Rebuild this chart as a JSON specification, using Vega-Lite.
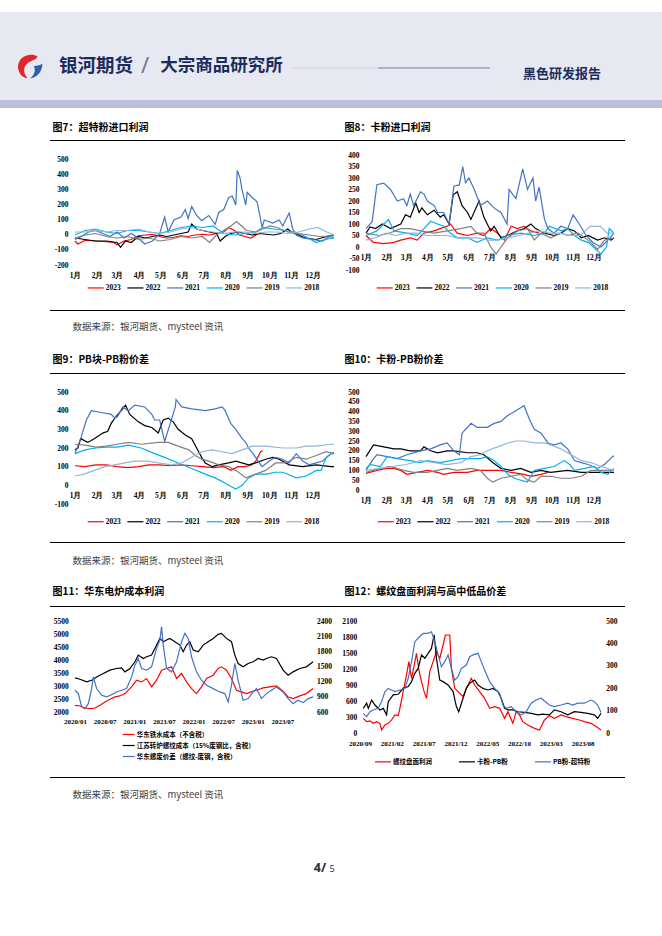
{
"$schema":"https://vega.github.io/schema/vega-lite/v6.json",
"padding":{"top":12,"left":0,"right":0,"bottom":0},
"background":"#ffffff",
"spacing":0,
"resolve":{"scale":{"color":"independent"},"legend":{"color":"independent"}},
"config":{
 "view":{"stroke":null},
 "axis":{"grid":false,"domain":false,"ticks":false,"labelFont":"Liberation Serif","labelFontWeight":"bold","labelColor":"#000000","labelFontSize":7.5,"labelOverlap":false,"labelFlush":false},
 "legend":{"labelFont":"Liberation Serif","labelFontWeight":"bold","labelColor":"#000000","labelFontSize":7.5,"symbolType":"stroke","symbolStrokeWidth":2,"padding":0,"labelOffset":1},
 "line":{"strokeWidth":1.2}
},
"datasets":{
"c7":[
{"s":"2023","d":1,"v":-40},{"s":"2023","d":5,"v":-60},{"s":"2023","d":15,"v":-35},{"s":"2023","d":30,"v":-40},{"s":"2023","d":45,"v":-45},{"s":"2023","d":55,"v":-50},{"s":"2023","d":60,"v":-65},{"s":"2023","d":70,"v":-40},{"s":"2023","d":80,"v":-30},{"s":"2023","d":90,"v":-5},{"s":"2023","d":100,"v":0},{"s":"2023","d":110,"v":5},{"s":"2023","d":120,"v":-10},{"s":"2023","d":130,"v":-20},{"s":"2023","d":140,"v":-15},{"s":"2023","d":150,"v":-5},{"s":"2023","d":160,"v":-10},{"s":"2023","d":170,"v":0},{"s":"2023","d":180,"v":5},{"s":"2023","d":190,"v":0},{"s":"2023","d":200,"v":10},{"s":"2023","d":210,"v":20},{"s":"2023","d":217,"v":50},{"s":"2023","d":225,"v":30},{"s":"2023","d":232,"v":0},{"s":"2023","d":240,"v":-10},{"s":"2023","d":248,"v":-20},{"s":"2023","d":255,"v":0},{"s":"2023","d":262,"v":15},
{"s":"2022","d":1,"v":-20},{"s":"2022","d":15,"v":-30},{"s":"2022","d":30,"v":-40},{"s":"2022","d":45,"v":-40},{"s":"2022","d":60,"v":-50},{"s":"2022","d":65,"v":-82},{"s":"2022","d":72,"v":-40},{"s":"2022","d":80,"v":-50},{"s":"2022","d":90,"v":-10},{"s":"2022","d":100,"v":-20},{"s":"2022","d":110,"v":-10},{"s":"2022","d":120,"v":0},{"s":"2022","d":130,"v":-10},{"s":"2022","d":140,"v":0},{"s":"2022","d":150,"v":10},{"s":"2022","d":160,"v":20},{"s":"2022","d":165,"v":73},{"s":"2022","d":172,"v":40},{"s":"2022","d":180,"v":30},{"s":"2022","d":190,"v":20},{"s":"2022","d":200,"v":10},{"s":"2022","d":205,"v":-40},{"s":"2022","d":212,"v":-10},{"s":"2022","d":220,"v":10},{"s":"2022","d":230,"v":20},{"s":"2022","d":240,"v":10},{"s":"2022","d":250,"v":0},{"s":"2022","d":260,"v":10},{"s":"2022","d":270,"v":5},{"s":"2022","d":280,"v":0},{"s":"2022","d":290,"v":10},{"s":"2022","d":300,"v":40},{"s":"2022","d":305,"v":20},{"s":"2022","d":315,"v":0},{"s":"2022","d":325,"v":-20},{"s":"2022","d":340,"v":-30},{"s":"2022","d":355,"v":-10},{"s":"2022","d":365,"v":0},
{"s":"2021","d":1,"v":-30},{"s":"2021","d":10,"v":-10},{"s":"2021","d":20,"v":20},{"s":"2021","d":30,"v":30},{"s":"2021","d":40,"v":10},{"s":"2021","d":50,"v":-10},{"s":"2021","d":60,"v":20},{"s":"2021","d":70,"v":-20},{"s":"2021","d":80,"v":10},{"s":"2021","d":90,"v":-20},{"s":"2021","d":99,"v":-60},{"s":"2021","d":110,"v":-40},{"s":"2021","d":120,"v":10},{"s":"2021","d":127,"v":120},{"s":"2021","d":132,"v":20},{"s":"2021","d":140,"v":100},{"s":"2021","d":150,"v":120},{"s":"2021","d":156,"v":170},{"s":"2021","d":160,"v":110},{"s":"2021","d":165,"v":190},{"s":"2021","d":172,"v":130},{"s":"2021","d":179,"v":95},{"s":"2021","d":189,"v":130},{"s":"2021","d":198,"v":70},{"s":"2021","d":203,"v":150},{"s":"2021","d":210,"v":170},{"s":"2021","d":217,"v":250},{"s":"2021","d":222,"v":260},{"s":"2021","d":227,"v":200},{"s":"2021","d":229,"v":430},{"s":"2021","d":233,"v":380},{"s":"2021","d":236,"v":295},{"s":"2021","d":241,"v":200},{"s":"2021","d":243,"v":285},{"s":"2021","d":250,"v":250},{"s":"2021","d":255,"v":230},{"s":"2021","d":257,"v":220},{"s":"2021","d":264,"v":50},{"s":"2021","d":267,"v":100},{"s":"2021","d":279,"v":80},{"s":"2021","d":288,"v":100},{"s":"2021","d":293,"v":60},{"s":"2021","d":297,"v":100},{"s":"2021","d":302,"v":147},{"s":"2021","d":307,"v":40},{"s":"2021","d":312,"v":0},{"s":"2021","d":321,"v":-20},{"s":"2021","d":335,"v":-30},{"s":"2021","d":349,"v":-40},{"s":"2021","d":359,"v":-10},{"s":"2021","d":365,"v":-20},
{"s":"2020","d":1,"v":0},{"s":"2020","d":15,"v":30},{"s":"2020","d":30,"v":40},{"s":"2020","d":45,"v":20},{"s":"2020","d":60,"v":10},{"s":"2020","d":75,"v":30},{"s":"2020","d":90,"v":30},{"s":"2020","d":105,"v":20},{"s":"2020","d":120,"v":10},{"s":"2020","d":135,"v":30},{"s":"2020","d":150,"v":50},{"s":"2020","d":165,"v":60},{"s":"2020","d":180,"v":50},{"s":"2020","d":195,"v":60},{"s":"2020","d":210,"v":10},{"s":"2020","d":225,"v":0},{"s":"2020","d":240,"v":10},{"s":"2020","d":255,"v":20},{"s":"2020","d":265,"v":50},{"s":"2020","d":280,"v":40},{"s":"2020","d":295,"v":30},{"s":"2020","d":310,"v":20},{"s":"2020","d":325,"v":-10},{"s":"2020","d":340,"v":-50},{"s":"2020","d":352,"v":-30},{"s":"2020","d":365,"v":-20},
{"s":"2019","d":1,"v":-20},{"s":"2019","d":15,"v":0},{"s":"2019","d":30,"v":10},{"s":"2019","d":45,"v":-10},{"s":"2019","d":60,"v":-20},{"s":"2019","d":75,"v":-10},{"s":"2019","d":90,"v":-30},{"s":"2019","d":105,"v":-20},{"s":"2019","d":120,"v":-40},{"s":"2019","d":135,"v":-30},{"s":"2019","d":150,"v":-10},{"s":"2019","d":165,"v":-20},{"s":"2019","d":180,"v":-10},{"s":"2019","d":190,"v":-49},{"s":"2019","d":200,"v":0},{"s":"2019","d":210,"v":30},{"s":"2019","d":220,"v":60},{"s":"2019","d":228,"v":90},{"s":"2019","d":235,"v":60},{"s":"2019","d":242,"v":30},{"s":"2019","d":255,"v":20},{"s":"2019","d":265,"v":40},{"s":"2019","d":275,"v":60},{"s":"2019","d":285,"v":50},{"s":"2019","d":300,"v":20},{"s":"2019","d":315,"v":10},{"s":"2019","d":330,"v":0},{"s":"2019","d":345,"v":-10},{"s":"2019","d":365,"v":-5},
{"s":"2018","d":1,"v":20},{"s":"2018","d":15,"v":20},{"s":"2018","d":30,"v":30},{"s":"2018","d":45,"v":20},{"s":"2018","d":60,"v":30},{"s":"2018","d":75,"v":30},{"s":"2018","d":90,"v":40},{"s":"2018","d":105,"v":20},{"s":"2018","d":120,"v":10},{"s":"2018","d":135,"v":20},{"s":"2018","d":150,"v":40},{"s":"2018","d":165,"v":50},{"s":"2018","d":180,"v":30},{"s":"2018","d":195,"v":20},{"s":"2018","d":210,"v":10},{"s":"2018","d":225,"v":20},{"s":"2018","d":240,"v":20},{"s":"2018","d":255,"v":10},{"s":"2018","d":270,"v":20},{"s":"2018","d":285,"v":20},{"s":"2018","d":300,"v":10},{"s":"2018","d":315,"v":20},{"s":"2018","d":330,"v":40},{"s":"2018","d":342,"v":50},{"s":"2018","d":355,"v":20},{"s":"2018","d":365,"v":0}
],
"c8":[
{"s":"2023","d":1,"v":50},{"s":"2023","d":12,"v":20},{"s":"2023","d":27,"v":15},{"s":"2023","d":42,"v":20},{"s":"2023","d":52,"v":30},{"s":"2023","d":66,"v":40},{"s":"2023","d":76,"v":30},{"s":"2023","d":86,"v":60},{"s":"2023","d":101,"v":70},{"s":"2023","d":110,"v":80},{"s":"2023","d":120,"v":90},{"s":"2023","d":125,"v":100},{"s":"2023","d":135,"v":60},{"s":"2023","d":150,"v":50},{"s":"2023","d":164,"v":60},{"s":"2023","d":174,"v":50},{"s":"2023","d":184,"v":80},{"s":"2023","d":194,"v":60},{"s":"2023","d":204,"v":30},{"s":"2023","d":214,"v":90},{"s":"2023","d":223,"v":80},{"s":"2023","d":233,"v":90},{"s":"2023","d":243,"v":70},{"s":"2023","d":255,"v":60},
{"s":"2022","d":1,"v":60},{"s":"2022","d":7,"v":87},{"s":"2022","d":15,"v":80},{"s":"2022","d":25,"v":100},{"s":"2022","d":37,"v":80},{"s":"2022","d":52,"v":100},{"s":"2022","d":59,"v":140},{"s":"2022","d":66,"v":130},{"s":"2022","d":74,"v":191},{"s":"2022","d":79,"v":150},{"s":"2022","d":83,"v":170},{"s":"2022","d":91,"v":140},{"s":"2022","d":101,"v":160},{"s":"2022","d":110,"v":130},{"s":"2022","d":115,"v":140},{"s":"2022","d":123,"v":100},{"s":"2022","d":129,"v":227},{"s":"2022","d":135,"v":240},{"s":"2022","d":142,"v":180},{"s":"2022","d":150,"v":150},{"s":"2022","d":155,"v":120},{"s":"2022","d":167,"v":200},{"s":"2022","d":174,"v":130},{"s":"2022","d":179,"v":100},{"s":"2022","d":184,"v":70},{"s":"2022","d":189,"v":90},{"s":"2022","d":199,"v":40},{"s":"2022","d":209,"v":50},{"s":"2022","d":223,"v":70},{"s":"2022","d":233,"v":80},{"s":"2022","d":243,"v":100},{"s":"2022","d":250,"v":80},{"s":"2022","d":263,"v":60},{"s":"2022","d":277,"v":50},{"s":"2022","d":287,"v":60},{"s":"2022","d":297,"v":80},{"s":"2022","d":307,"v":70},{"s":"2022","d":317,"v":40},{"s":"2022","d":327,"v":50},{"s":"2022","d":341,"v":30},{"s":"2022","d":351,"v":40},{"s":"2022","d":361,"v":30},{"s":"2022","d":365,"v":40},
{"s":"2021","d":1,"v":80},{"s":"2021","d":10,"v":110},{"s":"2021","d":17,"v":271},{"s":"2021","d":27,"v":278},{"s":"2021","d":37,"v":250},{"s":"2021","d":47,"v":200},{"s":"2021","d":56,"v":210},{"s":"2021","d":61,"v":180},{"s":"2021","d":66,"v":230},{"s":"2021","d":71,"v":180},{"s":"2021","d":81,"v":240},{"s":"2021","d":86,"v":230},{"s":"2021","d":91,"v":200},{"s":"2021","d":101,"v":180},{"s":"2021","d":106,"v":150},{"s":"2021","d":115,"v":150},{"s":"2021","d":123,"v":100},{"s":"2021","d":130,"v":264},{"s":"2021","d":138,"v":270},{"s":"2021","d":143,"v":350},{"s":"2021","d":147,"v":280},{"s":"2021","d":152,"v":300},{"s":"2021","d":160,"v":250},{"s":"2021","d":169,"v":180},{"s":"2021","d":179,"v":200},{"s":"2021","d":189,"v":170},{"s":"2021","d":199,"v":150},{"s":"2021","d":208,"v":100},{"s":"2021","d":211,"v":250},{"s":"2021","d":221,"v":210},{"s":"2021","d":231,"v":340},{"s":"2021","d":238,"v":250},{"s":"2021","d":246,"v":300},{"s":"2021","d":250,"v":200},{"s":"2021","d":255,"v":260},{"s":"2021","d":263,"v":120},{"s":"2021","d":268,"v":80},{"s":"2021","d":277,"v":60},{"s":"2021","d":287,"v":90},{"s":"2021","d":297,"v":80},{"s":"2021","d":305,"v":140},{"s":"2021","d":314,"v":100},{"s":"2021","d":324,"v":50},{"s":"2021","d":334,"v":20},{"s":"2021","d":346,"v":0},{"s":"2021","d":356,"v":30},{"s":"2021","d":365,"v":60},
{"s":"2020","d":1,"v":50},{"s":"2020","d":17,"v":70},{"s":"2020","d":34,"v":119},{"s":"2020","d":42,"v":70},{"s":"2020","d":61,"v":60},{"s":"2020","d":76,"v":50},{"s":"2020","d":86,"v":80},{"s":"2020","d":96,"v":112},{"s":"2020","d":106,"v":100},{"s":"2020","d":115,"v":90},{"s":"2020","d":125,"v":60},{"s":"2020","d":135,"v":40},{"s":"2020","d":150,"v":40},{"s":"2020","d":164,"v":20},{"s":"2020","d":179,"v":40},{"s":"2020","d":194,"v":30},{"s":"2020","d":209,"v":50},{"s":"2020","d":228,"v":60},{"s":"2020","d":248,"v":50},{"s":"2020","d":263,"v":60},{"s":"2020","d":270,"v":90},{"s":"2020","d":287,"v":70},{"s":"2020","d":297,"v":80},{"s":"2020","d":307,"v":50},{"s":"2020","d":317,"v":30},{"s":"2020","d":327,"v":20},{"s":"2020","d":346,"v":-30},{"s":"2020","d":354,"v":0},{"s":"2020","d":358,"v":80},{"s":"2020","d":365,"v":60},
{"s":"2019","d":1,"v":60},{"s":"2019","d":20,"v":50},{"s":"2019","d":35,"v":60},{"s":"2019","d":52,"v":80},{"s":"2019","d":66,"v":80},{"s":"2019","d":81,"v":70},{"s":"2019","d":101,"v":60},{"s":"2019","d":120,"v":70},{"s":"2019","d":140,"v":80},{"s":"2019","d":155,"v":90},{"s":"2019","d":164,"v":60},{"s":"2019","d":174,"v":60},{"s":"2019","d":184,"v":0},{"s":"2019","d":192,"v":-30},{"s":"2019","d":199,"v":0},{"s":"2019","d":209,"v":40},{"s":"2019","d":223,"v":70},{"s":"2019","d":238,"v":80},{"s":"2019","d":248,"v":30},{"s":"2019","d":258,"v":60},{"s":"2019","d":272,"v":40},{"s":"2019","d":287,"v":60},{"s":"2019","d":297,"v":50},{"s":"2019","d":312,"v":60},{"s":"2019","d":327,"v":30},{"s":"2019","d":341,"v":-10},{"s":"2019","d":351,"v":30},{"s":"2019","d":365,"v":40},
{"s":"2018","d":1,"v":30},{"s":"2018","d":15,"v":40},{"s":"2018","d":30,"v":60},{"s":"2018","d":45,"v":50},{"s":"2018","d":60,"v":60},{"s":"2018","d":75,"v":60},{"s":"2018","d":90,"v":50},{"s":"2018","d":105,"v":50},{"s":"2018","d":120,"v":50},{"s":"2018","d":135,"v":40},{"s":"2018","d":150,"v":40},{"s":"2018","d":165,"v":40},{"s":"2018","d":180,"v":30},{"s":"2018","d":195,"v":30},{"s":"2018","d":210,"v":40},{"s":"2018","d":225,"v":50},{"s":"2018","d":240,"v":60},{"s":"2018","d":255,"v":70},{"s":"2018","d":270,"v":60},{"s":"2018","d":285,"v":60},{"s":"2018","d":300,"v":50},{"s":"2018","d":315,"v":50},{"s":"2018","d":330,"v":90},{"s":"2018","d":345,"v":90},{"s":"2018","d":355,"v":60},{"s":"2018","d":365,"v":60}
],
"c9":[
{"s":"2023","d":1,"v":105},{"s":"2023","d":15,"v":100},{"s":"2023","d":30,"v":110},{"s":"2023","d":45,"v":110},{"s":"2023","d":60,"v":100},{"s":"2023","d":75,"v":95},{"s":"2023","d":90,"v":100},{"s":"2023","d":105,"v":110},{"s":"2023","d":120,"v":110},{"s":"2023","d":135,"v":105},{"s":"2023","d":150,"v":110},{"s":"2023","d":165,"v":105},{"s":"2023","d":180,"v":100},{"s":"2023","d":195,"v":95},{"s":"2023","d":210,"v":100},{"s":"2023","d":220,"v":80},{"s":"2023","d":230,"v":100},{"s":"2023","d":240,"v":100},{"s":"2023","d":250,"v":110},{"s":"2023","d":255,"v":130},{"s":"2023","d":262,"v":180},{"s":"2023","d":265,"v":185},
{"s":"2022","d":1,"v":190},{"s":"2022","d":5,"v":200},{"s":"2022","d":9,"v":250},{"s":"2022","d":19,"v":230},{"s":"2022","d":28,"v":250},{"s":"2022","d":40,"v":280},{"s":"2022","d":47,"v":290},{"s":"2022","d":52,"v":333},{"s":"2022","d":59,"v":370},{"s":"2022","d":66,"v":400},{"s":"2022","d":72,"v":430},{"s":"2022","d":78,"v":380},{"s":"2022","d":90,"v":340},{"s":"2022","d":99,"v":320},{"s":"2022","d":109,"v":310},{"s":"2022","d":118,"v":280},{"s":"2022","d":125,"v":350},{"s":"2022","d":132,"v":360},{"s":"2022","d":139,"v":340},{"s":"2022","d":146,"v":300},{"s":"2022","d":156,"v":270},{"s":"2022","d":165,"v":250},{"s":"2022","d":172,"v":200},{"s":"2022","d":179,"v":150},{"s":"2022","d":184,"v":120},{"s":"2022","d":194,"v":100},{"s":"2022","d":203,"v":110},{"s":"2022","d":217,"v":120},{"s":"2022","d":227,"v":130},{"s":"2022","d":245,"v":110},{"s":"2022","d":255,"v":120},{"s":"2022","d":269,"v":140},{"s":"2022","d":279,"v":150},{"s":"2022","d":288,"v":140},{"s":"2022","d":302,"v":110},{"s":"2022","d":321,"v":100},{"s":"2022","d":340,"v":110},{"s":"2022","d":361,"v":100},{"s":"2022","d":365,"v":100},
{"s":"2021","d":1,"v":170},{"s":"2021","d":9,"v":250},{"s":"2021","d":17,"v":350},{"s":"2021","d":24,"v":400},{"s":"2021","d":38,"v":390},{"s":"2021","d":52,"v":380},{"s":"2021","d":57,"v":360},{"s":"2021","d":61,"v":370},{"s":"2021","d":68,"v":420},{"s":"2021","d":76,"v":400},{"s":"2021","d":85,"v":430},{"s":"2021","d":99,"v":420},{"s":"2021","d":109,"v":380},{"s":"2021","d":113,"v":350},{"s":"2021","d":120,"v":350},{"s":"2021","d":127,"v":235},{"s":"2021","d":142,"v":420},{"s":"2021","d":143,"v":460},{"s":"2021","d":151,"v":420},{"s":"2021","d":165,"v":410},{"s":"2021","d":184,"v":400},{"s":"2021","d":198,"v":410},{"s":"2021","d":208,"v":420},{"s":"2021","d":212,"v":400},{"s":"2021","d":220,"v":330},{"s":"2021","d":227,"v":300},{"s":"2021","d":236,"v":250},{"s":"2021","d":241,"v":230},{"s":"2021","d":245,"v":200},{"s":"2021","d":253,"v":160},{"s":"2021","d":260,"v":120},{"s":"2021","d":264,"v":100},{"s":"2021","d":274,"v":130},{"s":"2021","d":283,"v":150},{"s":"2021","d":293,"v":140},{"s":"2021","d":302,"v":120},{"s":"2021","d":312,"v":170},{"s":"2021","d":321,"v":130},{"s":"2021","d":330,"v":110},{"s":"2021","d":340,"v":120},{"s":"2021","d":349,"v":130},{"s":"2021","d":361,"v":170},{"s":"2021","d":365,"v":175},
{"s":"2020","d":1,"v":170},{"s":"2020","d":15,"v":190},{"s":"2020","d":30,"v":200},{"s":"2020","d":45,"v":205},{"s":"2020","d":60,"v":205},{"s":"2020","d":76,"v":215},{"s":"2020","d":94,"v":200},{"s":"2020","d":113,"v":170},{"s":"2020","d":127,"v":150},{"s":"2020","d":146,"v":120},{"s":"2020","d":165,"v":90},{"s":"2020","d":184,"v":60},{"s":"2020","d":198,"v":40},{"s":"2020","d":208,"v":20},{"s":"2020","d":217,"v":0},{"s":"2020","d":227,"v":-20},{"s":"2020","d":236,"v":0},{"s":"2020","d":245,"v":40},{"s":"2020","d":255,"v":60},{"s":"2020","d":269,"v":60},{"s":"2020","d":283,"v":70},{"s":"2020","d":293,"v":70},{"s":"2020","d":312,"v":40},{"s":"2020","d":326,"v":50},{"s":"2020","d":340,"v":80},{"s":"2020","d":347,"v":80},{"s":"2020","d":354,"v":150},{"s":"2020","d":361,"v":170},{"s":"2020","d":365,"v":170},
{"s":"2019","d":1,"v":220},{"s":"2019","d":15,"v":215},{"s":"2019","d":30,"v":205},{"s":"2019","d":45,"v":210},{"s":"2019","d":60,"v":220},{"s":"2019","d":76,"v":230},{"s":"2019","d":94,"v":220},{"s":"2019","d":118,"v":230},{"s":"2019","d":132,"v":230},{"s":"2019","d":146,"v":210},{"s":"2019","d":161,"v":190},{"s":"2019","d":170,"v":160},{"s":"2019","d":179,"v":140},{"s":"2019","d":189,"v":130},{"s":"2019","d":203,"v":110},{"s":"2019","d":217,"v":100},{"s":"2019","d":231,"v":70},{"s":"2019","d":241,"v":40},{"s":"2019","d":255,"v":60},{"s":"2019","d":269,"v":80},{"s":"2019","d":283,"v":120},{"s":"2019","d":297,"v":120},{"s":"2019","d":312,"v":150},{"s":"2019","d":326,"v":140},{"s":"2019","d":340,"v":160},{"s":"2019","d":354,"v":180},{"s":"2019","d":365,"v":170},
{"s":"2018","d":1,"v":50},{"s":"2018","d":14,"v":60},{"s":"2018","d":28,"v":80},{"s":"2018","d":43,"v":100},{"s":"2018","d":57,"v":110},{"s":"2018","d":71,"v":120},{"s":"2018","d":85,"v":130},{"s":"2018","d":104,"v":130},{"s":"2018","d":118,"v":120},{"s":"2018","d":137,"v":110},{"s":"2018","d":151,"v":120},{"s":"2018","d":165,"v":150},{"s":"2018","d":179,"v":180},{"s":"2018","d":194,"v":190},{"s":"2018","d":208,"v":180},{"s":"2018","d":222,"v":170},{"s":"2018","d":236,"v":190},{"s":"2018","d":250,"v":210},{"s":"2018","d":269,"v":210},{"s":"2018","d":293,"v":200},{"s":"2018","d":312,"v":200},{"s":"2018","d":326,"v":210},{"s":"2018","d":340,"v":210},{"s":"2018","d":361,"v":220},{"s":"2018","d":365,"v":220}
],
"c10":[
{"s":"2023","d":1,"v":85},{"s":"2023","d":17,"v":100},{"s":"2023","d":32,"v":110},{"s":"2023","d":42,"v":110},{"s":"2023","d":52,"v":100},{"s":"2023","d":61,"v":80},{"s":"2023","d":76,"v":90},{"s":"2023","d":91,"v":100},{"s":"2023","d":106,"v":90},{"s":"2023","d":115,"v":80},{"s":"2023","d":130,"v":90},{"s":"2023","d":150,"v":90},{"s":"2023","d":164,"v":100},{"s":"2023","d":179,"v":100},{"s":"2023","d":199,"v":100},{"s":"2023","d":214,"v":90},{"s":"2023","d":233,"v":80},{"s":"2023","d":243,"v":70},{"s":"2023","d":258,"v":80},{"s":"2023","d":268,"v":90},
{"s":"2022","d":1,"v":170},{"s":"2022","d":12,"v":230},{"s":"2022","d":27,"v":220},{"s":"2022","d":42,"v":210},{"s":"2022","d":52,"v":210},{"s":"2022","d":66,"v":200},{"s":"2022","d":81,"v":200},{"s":"2022","d":86,"v":220},{"s":"2022","d":96,"v":200},{"s":"2022","d":106,"v":190},{"s":"2022","d":120,"v":200},{"s":"2022","d":130,"v":200},{"s":"2022","d":150,"v":190},{"s":"2022","d":164,"v":190},{"s":"2022","d":174,"v":180},{"s":"2022","d":187,"v":140},{"s":"2022","d":199,"v":110},{"s":"2022","d":214,"v":100},{"s":"2022","d":228,"v":110},{"s":"2022","d":243,"v":90},{"s":"2022","d":258,"v":100},{"s":"2022","d":272,"v":90},{"s":"2022","d":297,"v":100},{"s":"2022","d":317,"v":90},{"s":"2022","d":336,"v":90},{"s":"2022","d":365,"v":90},
{"s":"2021","d":1,"v":100},{"s":"2021","d":10,"v":150},{"s":"2021","d":17,"v":180},{"s":"2021","d":32,"v":170},{"s":"2021","d":47,"v":160},{"s":"2021","d":61,"v":180},{"s":"2021","d":81,"v":200},{"s":"2021","d":96,"v":210},{"s":"2021","d":110,"v":230},{"s":"2021","d":120,"v":240},{"s":"2021","d":130,"v":200},{"s":"2021","d":138,"v":180},{"s":"2021","d":142,"v":290},{"s":"2021","d":150,"v":320},{"s":"2021","d":155,"v":340},{"s":"2021","d":164,"v":320},{"s":"2021","d":179,"v":320},{"s":"2021","d":189,"v":340},{"s":"2021","d":199,"v":350},{"s":"2021","d":209,"v":380},{"s":"2021","d":219,"v":400},{"s":"2021","d":228,"v":420},{"s":"2021","d":233,"v":430},{"s":"2021","d":241,"v":360},{"s":"2021","d":248,"v":310},{"s":"2021","d":258,"v":290},{"s":"2021","d":268,"v":240},{"s":"2021","d":277,"v":230},{"s":"2021","d":287,"v":240},{"s":"2021","d":297,"v":210},{"s":"2021","d":307,"v":150},{"s":"2021","d":317,"v":140},{"s":"2021","d":327,"v":130},{"s":"2021","d":341,"v":110},{"s":"2021","d":351,"v":130},{"s":"2021","d":363,"v":170},{"s":"2021","d":365,"v":175},
{"s":"2020","d":1,"v":110},{"s":"2020","d":7,"v":130},{"s":"2020","d":22,"v":120},{"s":"2020","d":32,"v":170},{"s":"2020","d":47,"v":160},{"s":"2020","d":66,"v":150},{"s":"2020","d":81,"v":140},{"s":"2020","d":91,"v":150},{"s":"2020","d":110,"v":140},{"s":"2020","d":125,"v":150},{"s":"2020","d":140,"v":160},{"s":"2020","d":155,"v":160},{"s":"2020","d":169,"v":160},{"s":"2020","d":179,"v":170},{"s":"2020","d":189,"v":150},{"s":"2020","d":199,"v":120},{"s":"2020","d":209,"v":80},{"s":"2020","d":219,"v":60},{"s":"2020","d":228,"v":50},{"s":"2020","d":238,"v":40},{"s":"2020","d":248,"v":100},{"s":"2020","d":263,"v":110},{"s":"2020","d":277,"v":120},{"s":"2020","d":292,"v":150},{"s":"2020","d":300,"v":130},{"s":"2020","d":307,"v":100},{"s":"2020","d":322,"v":110},{"s":"2020","d":336,"v":120},{"s":"2020","d":346,"v":90},{"s":"2020","d":356,"v":80},{"s":"2020","d":365,"v":110},
{"s":"2019","d":1,"v":90},{"s":"2019","d":22,"v":110},{"s":"2019","d":37,"v":120},{"s":"2019","d":56,"v":100},{"s":"2019","d":71,"v":90},{"s":"2019","d":91,"v":90},{"s":"2019","d":106,"v":100},{"s":"2019","d":120,"v":110},{"s":"2019","d":135,"v":100},{"s":"2019","d":155,"v":110},{"s":"2019","d":169,"v":100},{"s":"2019","d":179,"v":60},{"s":"2019","d":187,"v":40},{"s":"2019","d":199,"v":60},{"s":"2019","d":214,"v":70},{"s":"2019","d":228,"v":80},{"s":"2019","d":238,"v":50},{"s":"2019","d":248,"v":40},{"s":"2019","d":258,"v":70},{"s":"2019","d":272,"v":70},{"s":"2019","d":287,"v":60},{"s":"2019","d":302,"v":60},{"s":"2019","d":317,"v":70},{"s":"2019","d":331,"v":100},{"s":"2019","d":346,"v":100},{"s":"2019","d":365,"v":100},
{"s":"2018","d":1,"v":100},{"s":"2018","d":20,"v":110},{"s":"2018","d":40,"v":120},{"s":"2018","d":60,"v":130},{"s":"2018","d":81,"v":150},{"s":"2018","d":101,"v":140},{"s":"2018","d":120,"v":130},{"s":"2018","d":140,"v":140},{"s":"2018","d":155,"v":170},{"s":"2018","d":169,"v":180},{"s":"2018","d":179,"v":200},{"s":"2018","d":194,"v":220},{"s":"2018","d":209,"v":240},{"s":"2018","d":221,"v":250},{"s":"2018","d":233,"v":250},{"s":"2018","d":248,"v":240},{"s":"2018","d":263,"v":240},{"s":"2018","d":272,"v":230},{"s":"2018","d":287,"v":210},{"s":"2018","d":302,"v":180},{"s":"2018","d":317,"v":150},{"s":"2018","d":331,"v":140},{"s":"2018","d":346,"v":120},{"s":"2018","d":365,"v":100}
],
"c11":[
{"s":"a","m":0,"v":2257},{"s":"a","m":1.01,"v":2232},{"s":"a","m":2.02,"v":2154},{"s":"a","m":3.03,"v":2129},{"s":"a","m":4.05,"v":2154},{"s":"a","m":5.06,"v":2257},{"s":"a","m":6.07,"v":2386},{"s":"a","m":7.08,"v":2489},{"s":"a","m":8.09,"v":2579},{"s":"a","m":9.1,"v":2618},{"s":"a","m":10.11,"v":2708},{"s":"a","m":11.46,"v":2965},{"s":"a","m":12.47,"v":3223},{"s":"a","m":13.49,"v":3158},{"s":"a","m":14.5,"v":3287},{"s":"a","m":15.51,"v":2965},{"s":"a","m":16.52,"v":3223},{"s":"a","m":17.53,"v":3609},{"s":"a","m":18.54,"v":3673},{"s":"a","m":19.55,"v":3737},{"s":"a","m":20.57,"v":3287},{"s":"a","m":21.58,"v":3480},{"s":"a","m":22.59,"v":3158},{"s":"a","m":23.6,"v":2901},{"s":"a","m":24.61,"v":2708},{"s":"a","m":25.62,"v":2965},{"s":"a","m":26.64,"v":3287},{"s":"a","m":27.98,"v":3416},{"s":"a","m":29,"v":3673},{"s":"a","m":29.67,"v":3737},{"s":"a","m":30.68,"v":3609},{"s":"a","m":31.69,"v":3287},{"s":"a","m":32.7,"v":2836},{"s":"a","m":33.72,"v":2772},{"s":"a","m":34.73,"v":2708},{"s":"a","m":35.74,"v":2772},{"s":"a","m":36.75,"v":2836},{"s":"a","m":38.1,"v":2926},{"s":"a","m":39.45,"v":2965},{"s":"a","m":40.8,"v":3004},{"s":"a","m":42.15,"v":2798},{"s":"a","m":43.16,"v":2579},{"s":"a","m":44.17,"v":2515},{"s":"a","m":45.52,"v":2618},{"s":"a","m":46.86,"v":2708},{"s":"a","m":48.21,"v":2901},
{"s":"b","m":0,"v":3313},{"s":"b","m":1.01,"v":3261},{"s":"b","m":2.36,"v":3158},{"s":"b","m":3.37,"v":3223},{"s":"b","m":4.38,"v":3350},{"s":"b","m":5.73,"v":3480},{"s":"b","m":7.08,"v":3609},{"s":"b","m":8.43,"v":3673},{"s":"b","m":9.44,"v":3700},{"s":"b","m":10.11,"v":3544},{"s":"b","m":11.13,"v":3673},{"s":"b","m":12.14,"v":3931},{"s":"b","m":12.81,"v":4188},{"s":"b","m":13.82,"v":4059},{"s":"b","m":14.5,"v":4124},{"s":"b","m":15.51,"v":4188},{"s":"b","m":16.18,"v":4445},{"s":"b","m":17.19,"v":4831},{"s":"b","m":17.87,"v":4703},{"s":"b","m":18.54,"v":4767},{"s":"b","m":19.22,"v":4831},{"s":"b","m":20.23,"v":4703},{"s":"b","m":21.24,"v":4574},{"s":"b","m":21.92,"v":4317},{"s":"b","m":22.59,"v":4574},{"s":"b","m":23.26,"v":4703},{"s":"b","m":23.94,"v":4381},{"s":"b","m":24.95,"v":4317},{"s":"b","m":25.96,"v":4574},{"s":"b","m":26.97,"v":4703},{"s":"b","m":27.98,"v":4831},{"s":"b","m":29,"v":4986},{"s":"b","m":29.67,"v":5024},{"s":"b","m":30.68,"v":4831},{"s":"b","m":31.69,"v":4703},{"s":"b","m":32.37,"v":4188},{"s":"b","m":33.04,"v":3866},{"s":"b","m":34.05,"v":3737},{"s":"b","m":35.06,"v":3866},{"s":"b","m":36.08,"v":3931},{"s":"b","m":37.09,"v":4059},{"s":"b","m":38.1,"v":3995},{"s":"b","m":38.77,"v":4059},{"s":"b","m":39.78,"v":4124},{"s":"b","m":40.8,"v":4059},{"s":"b","m":42.15,"v":3609},{"s":"b","m":43.16,"v":3416},{"s":"b","m":44.17,"v":3544},{"s":"b","m":45.52,"v":3673},{"s":"b","m":46.86,"v":3737},{"s":"b","m":48.21,"v":3931},
{"s":"c","m":0,"v":1030},{"s":"c","m":0.67,"v":964},{"s":"c","m":1.35,"v":699},{"s":"c","m":2.02,"v":666},{"s":"c","m":2.7,"v":765},{"s":"c","m":3.37,"v":1063},{"s":"c","m":3.71,"v":1295},{"s":"c","m":4.38,"v":1063},{"s":"c","m":5.39,"v":931},{"s":"c","m":6.41,"v":898},{"s":"c","m":7.42,"v":944},{"s":"c","m":8.43,"v":997},{"s":"c","m":9.44,"v":1030},{"s":"c","m":10.45,"v":1063},{"s":"c","m":11.46,"v":1295},{"s":"c","m":12.14,"v":1527},{"s":"c","m":12.81,"v":1659},{"s":"c","m":13.49,"v":1460},{"s":"c","m":14.5,"v":1427},{"s":"c","m":15.51,"v":1493},{"s":"c","m":16.52,"v":1857},{"s":"c","m":17.19,"v":2023},{"s":"c","m":17.53,"v":2288},{"s":"c","m":17.87,"v":1924},{"s":"c","m":18.54,"v":1460},{"s":"c","m":19.55,"v":1394},{"s":"c","m":20.57,"v":1593},{"s":"c","m":21.58,"v":1990},{"s":"c","m":22.25,"v":2155},{"s":"c","m":22.93,"v":2056},{"s":"c","m":23.6,"v":1692},{"s":"c","m":24.61,"v":1394},{"s":"c","m":25.62,"v":1229},{"s":"c","m":26.64,"v":1129},{"s":"c","m":27.98,"v":1063},{"s":"c","m":29.33,"v":997},{"s":"c","m":30.34,"v":964},{"s":"c","m":31.02,"v":799},{"s":"c","m":31.69,"v":1129},{"s":"c","m":32.37,"v":1560},{"s":"c","m":33.04,"v":1229},{"s":"c","m":34.05,"v":832},{"s":"c","m":35.06,"v":865},{"s":"c","m":36.08,"v":997},{"s":"c","m":36.75,"v":1063},{"s":"c","m":37.76,"v":865},{"s":"c","m":38.77,"v":964},{"s":"c","m":39.78,"v":1030},{"s":"c","m":40.8,"v":1096},{"s":"c","m":42.15,"v":997},{"s":"c","m":43.16,"v":865},{"s":"c","m":44.17,"v":765},{"s":"c","m":45.18,"v":832},{"s":"c","m":46.19,"v":785},{"s":"c","m":47.2,"v":865},{"s":"c","m":48.21,"v":898}
],
"c12":[
{"s":"a","m":0.52,"v":280},{"s":"a","m":1.04,"v":218},{"s":"a","m":1.57,"v":230},{"s":"a","m":2.09,"v":187},{"s":"a","m":2.61,"v":218},{"s":"a","m":3.13,"v":187},{"s":"a","m":3.4,"v":62},{"s":"a","m":3.92,"v":156},{"s":"a","m":4.44,"v":187},{"s":"a","m":4.96,"v":249},{"s":"a","m":5.49,"v":343},{"s":"a","m":6.01,"v":330},{"s":"a","m":6.27,"v":467},{"s":"a","m":6.79,"v":779},{"s":"a","m":7.31,"v":1090},{"s":"a","m":7.68,"v":1340},{"s":"a","m":8.1,"v":1028},{"s":"a","m":8.52,"v":1277},{"s":"a","m":8.88,"v":1495},{"s":"a","m":9.25,"v":1184},{"s":"a","m":9.67,"v":966},{"s":"a","m":10.08,"v":779},{"s":"a","m":10.45,"v":654},{"s":"a","m":10.97,"v":1153},{"s":"a","m":11.49,"v":1340},{"s":"a","m":12.02,"v":1527},{"s":"a","m":12.54,"v":1402},{"s":"a","m":13.06,"v":1651},{"s":"a","m":13.43,"v":1838},{"s":"a","m":14.11,"v":1838},{"s":"a","m":14.37,"v":1215},{"s":"a","m":14.89,"v":841},{"s":"a","m":15.41,"v":779},{"s":"a","m":16.2,"v":685},{"s":"a","m":16.72,"v":841},{"s":"a","m":17.5,"v":1028},{"s":"a","m":18.03,"v":903},{"s":"a","m":18.81,"v":779},{"s":"a","m":19.59,"v":654},{"s":"a","m":20.38,"v":467},{"s":"a","m":21.16,"v":498},{"s":"a","m":21.94,"v":467},{"s":"a","m":22.73,"v":280},{"s":"a","m":23.25,"v":405},{"s":"a","m":24.03,"v":187},{"s":"a","m":24.56,"v":405},{"s":"a","m":25.08,"v":343},{"s":"a","m":25.6,"v":218},{"s":"a","m":26.38,"v":156},{"s":"a","m":27.43,"v":93},{"s":"a","m":28.21,"v":62},{"s":"a","m":29,"v":249},{"s":"a","m":29.78,"v":330},{"s":"a","m":30.56,"v":280},{"s":"a","m":31.61,"v":343},{"s":"a","m":32.39,"v":311},{"s":"a","m":33.44,"v":280},{"s":"a","m":34.48,"v":249},{"s":"a","m":35.27,"v":218},{"s":"a","m":36.31,"v":187},{"s":"a","m":37.1,"v":125},{"s":"a","m":37.88,"v":62},
{"s":"b","m":0.52,"v":111},{"s":"b","m":1.04,"v":134},{"s":"b","m":1.31,"v":111},{"s":"b","m":1.83,"v":148},{"s":"b","m":2.35,"v":126},{"s":"b","m":3.13,"v":104},{"s":"b","m":3.66,"v":111},{"s":"b","m":4.18,"v":82},{"s":"b","m":4.44,"v":141},{"s":"b","m":5.22,"v":171},{"s":"b","m":6.01,"v":174},{"s":"b","m":6.79,"v":200},{"s":"b","m":7.58,"v":208},{"s":"b","m":8.1,"v":230},{"s":"b","m":8.62,"v":267},{"s":"b","m":9.14,"v":289},{"s":"b","m":9.67,"v":349},{"s":"b","m":10.19,"v":334},{"s":"b","m":10.71,"v":356},{"s":"b","m":11.23,"v":378},{"s":"b","m":11.65,"v":438},{"s":"b","m":12.02,"v":334},{"s":"b","m":12.54,"v":237},{"s":"b","m":13.06,"v":230},{"s":"b","m":13.85,"v":215},{"s":"b","m":14.63,"v":186},{"s":"b","m":15.15,"v":119},{"s":"b","m":15.52,"v":96},{"s":"b","m":16.2,"v":156},{"s":"b","m":16.72,"v":200},{"s":"b","m":17.24,"v":223},{"s":"b","m":18.03,"v":237},{"s":"b","m":18.55,"v":215},{"s":"b","m":19.33,"v":200},{"s":"b","m":20.11,"v":193},{"s":"b","m":20.9,"v":200},{"s":"b","m":21.68,"v":186},{"s":"b","m":22.2,"v":156},{"s":"b","m":22.73,"v":111},{"s":"b","m":23.25,"v":104},{"s":"b","m":24.03,"v":104},{"s":"b","m":24.82,"v":96},{"s":"b","m":25.86,"v":93},{"s":"b","m":26.91,"v":89},{"s":"b","m":27.95,"v":82},{"s":"b","m":28.74,"v":85},{"s":"b","m":29.78,"v":82},{"s":"b","m":30.56,"v":104},{"s":"b","m":31.61,"v":96},{"s":"b","m":32.65,"v":82},{"s":"b","m":33.7,"v":96},{"s":"b","m":34.74,"v":93},{"s":"b","m":35.79,"v":89},{"s":"b","m":36.83,"v":82},{"s":"b","m":37.36,"v":67},{"s":"b","m":37.88,"v":89},
{"s":"c","m":0.52,"v":89},{"s":"c","m":1.04,"v":74},{"s":"c","m":1.57,"v":96},{"s":"c","m":2.09,"v":104},{"s":"c","m":2.87,"v":111},{"s":"c","m":3.4,"v":141},{"s":"c","m":3.92,"v":186},{"s":"c","m":4.44,"v":200},{"s":"c","m":4.96,"v":193},{"s":"c","m":5.49,"v":186},{"s":"c","m":6.27,"v":193},{"s":"c","m":7.05,"v":200},{"s":"c","m":7.58,"v":245},{"s":"c","m":8.2,"v":334},{"s":"c","m":8.62,"v":408},{"s":"c","m":9.14,"v":423},{"s":"c","m":9.93,"v":445},{"s":"c","m":10.71,"v":445},{"s":"c","m":11.23,"v":452},{"s":"c","m":11.76,"v":408},{"s":"c","m":12.28,"v":349},{"s":"c","m":12.8,"v":297},{"s":"c","m":13.32,"v":319},{"s":"c","m":13.85,"v":349},{"s":"c","m":14.37,"v":289},{"s":"c","m":14.89,"v":237},{"s":"c","m":15.41,"v":252},{"s":"c","m":15.94,"v":289},{"s":"c","m":16.72,"v":304},{"s":"c","m":17.24,"v":341},{"s":"c","m":17.76,"v":349},{"s":"c","m":18.55,"v":356},{"s":"c","m":19.07,"v":319},{"s":"c","m":19.59,"v":282},{"s":"c","m":20.38,"v":230},{"s":"c","m":21.16,"v":200},{"s":"c","m":21.94,"v":178},{"s":"c","m":22.47,"v":126},{"s":"c","m":22.99,"v":111},{"s":"c","m":23.77,"v":119},{"s":"c","m":24.56,"v":96},{"s":"c","m":25.34,"v":82},{"s":"c","m":26.12,"v":96},{"s":"c","m":26.91,"v":134},{"s":"c","m":27.69,"v":148},{"s":"c","m":28.47,"v":156},{"s":"c","m":29,"v":144},{"s":"c","m":29.78,"v":126},{"s":"c","m":30.56,"v":119},{"s":"c","m":31.61,"v":126},{"s":"c","m":32.65,"v":134},{"s":"c","m":33.44,"v":126},{"s":"c","m":34.22,"v":134},{"s":"c","m":35.27,"v":134},{"s":"c","m":36.31,"v":148},{"s":"c","m":36.83,"v":141},{"s":"c","m":37.36,"v":126},{"s":"c","m":37.88,"v":93}
]
},
"vconcat":[
{"hconcat":[
 {"width":58,"height":88,"view":{"fill":"#e6e9f1","stroke":null},"data":{"values":[{}]},"layer":[
  {"mark":{"type":"point","shape":"M0.6,-0.8 C0.1,-1.1 -0.9,-0.9 -1,0 C-1,0.6 -0.6,1 -0.2,1 C-0.6,0.6 -0.6,0 -0.1,-0.3 C0.2,-0.5 0.5,-0.5 0.6,-0.8 Z","size":600,"filled":true,"color":"#e2262c","opacity":1},"encoding":{"x":{"datum":0.52,"type":"quantitative","scale":{"domain":[0,1]},"axis":null},"y":{"datum":0.386,"type":"quantitative","scale":{"domain":[0,1]},"axis":null}}},
  {"mark":{"type":"point","shape":"M1,-0.2 C1,0.5 0.5,1 0,1 C0.3,0.8 0.5,0.4 0.3,0 C0.6,0 0.9,-0.1 1,-0.2 Z","size":600,"filled":true,"color":"#2d5fb0","opacity":1},"encoding":{"x":{"datum":0.52,"type":"quantitative","scale":{"domain":[0,1]},"axis":null},"y":{"datum":0.386,"type":"quantitative","scale":{"domain":[0,1]},"axis":null}}}
 ]},
 {"width":76,"height":88,"view":{"fill":"#e6e9f1","stroke":null},"data":{"values":[{}]},"mark":{"type":"text","text":"银河期货","font":"Noto Sans CJK SC","fontSize":18.5,"fontWeight":"bold","color":"#1d2b5f"},"encoding":{"y":{"datum":0.386,"type":"quantitative","scale":{"domain":[0,1]},"axis":null}}},
 {"width":22,"height":88,"view":{"fill":"#e6e9f1","stroke":null},"data":{"values":[{}]},"mark":{"type":"text","text":"/","font":"Noto Sans","fontSize":22,"fontWeight":"normal","color":"#6f7590"},"encoding":{"y":{"datum":0.386,"type":"quantitative","scale":{"domain":[0,1]},"axis":null}}},
 {"width":131,"height":88,"view":{"fill":"#e6e9f1","stroke":null},"data":{"values":[{}]},"mark":{"type":"text","text":"大宗商品研究所","font":"Noto Sans CJK SC","fontSize":17.5,"fontWeight":"bold","color":"#1d2b5f"},"encoding":{"y":{"datum":0.386,"type":"quantitative","scale":{"domain":[0,1]},"axis":null}}},
 {"width":203,"height":88,"view":{"fill":"#e6e9f1","stroke":null},"data":{"values":[{}]},"layer":[
  {"mark":{"type":"rule","color":"#d4d8e6","strokeWidth":1},"encoding":{"x":{"datum":0.02,"type":"quantitative","scale":{"domain":[0,1]},"axis":null},"x2":{"datum":0.45},"y":{"datum":0.364,"type":"quantitative","scale":{"domain":[0,1]},"axis":null}}},
  {"mark":{"type":"rule","color":"#737ca8","strokeWidth":1},"encoding":{"x":{"datum":0.45,"type":"quantitative","scale":{"domain":[0,1]},"axis":null},"x2":{"datum":1.0},"y":{"datum":0.364,"type":"quantitative","scale":{"domain":[0,1]},"axis":null}}},
  {"mark":{"type":"point","shape":"diamond","size":70,"filled":true,"fill":"#e6e9f1","stroke":"#737ca8","strokeWidth":1,"opacity":1},"encoding":{"x":{"datum":1.03,"type":"quantitative","scale":{"domain":[0,1]},"axis":null},"y":{"datum":0.364,"type":"quantitative","scale":{"domain":[0,1]},"axis":null}}}
 ]},
 {"width":144,"height":88,"view":{"fill":"#e6e9f1","stroke":null},"data":{"values":[{}]},"mark":{"type":"text","text":"黑色研发报告","font":"Noto Sans CJK SC","fontSize":13,"fontWeight":"bold","color":"#1d2b5f"},"encoding":{"y":{"datum":0.3,"type":"quantitative","scale":{"domain":[0,1]},"axis":null}}},
 {"width":28,"height":88,"view":{"fill":"#e6e9f1","stroke":null},"data":{"values":[]},"mark":"text","encoding":{}}
],"spacing":0,"bounds":"flush"},
{"width":662,"height":8,"view":{"fill":"#b9bfdc","stroke":null},"data":{"values":[]},"mark":"text","encoding":{}},
{"width":1,"height":15,"data":{"values":[]},"mark":"text","encoding":{}},
{"hconcat":[
 {"width":50,"height":1,"data":{"values":[]},"mark":"text","encoding":{}},
 {"width":292,"height":1,"data":{"values":[{}]},"mark":{"type":"rule","color":"#000000","strokeWidth":1},"encoding":{"x":{"datum":0,"type":"quantitative","scale":{"domain":[0,1]},"axis":null},"x2":{"datum":1},"y":{"datum":0.5,"type":"quantitative","scale":{"domain":[0,1]},"axis":null}},"title":{"text":"图7：超特粉进口利润","anchor":"start","orient":"top","offset":6.7,"dx":3,"fontSize":10,"fontWeight":"bold","font":"Noto Sans CJK SC","color":"#000000"}},
 {"width":283,"height":1,"data":{"values":[{}]},"mark":{"type":"rule","color":"#000000","strokeWidth":1},"encoding":{"x":{"datum":0,"type":"quantitative","scale":{"domain":[0,1]},"axis":null},"x2":{"datum":1},"y":{"datum":0.5,"type":"quantitative","scale":{"domain":[0,1]},"axis":null}},"title":{"text":"图8：卡粉进口利润","anchor":"start","orient":"top","offset":6.7,"dx":3,"fontSize":10,"fontWeight":"bold","font":"Noto Sans CJK SC","color":"#000000"}}
],"spacing":0,"bounds":"flush"},
{"width":1,"height":9.3,"data":{"values":[]},"mark":"text","encoding":{}},
{"hconcat":[
 {"width":75,"height":1,"data":{"values":[]},"mark":"text","encoding":{}},
 {"width":259,"height":110,"data":{"name":"c7"},"mark":{"type":"line","strokeWidth":1.2},
  "encoding":{
   "x":{"field":"d","type":"quantitative","scale":{"domain":[1,365],"nice":false,"zero":false},"axis":{"values":[1,32,60,91,121,152,182,213,244,274,305,335],"labelExpr":"(indexof([1,32,60,91,121,152,182,213,244,274,305,335], datum.value) + 1) + '月'","labelPadding":6,"labelFontSize":7.5,"title":null}},
   "y":{"field":"v","type":"quantitative","scale":{"domain":[-200,533.3],"nice":false,"zero":false},"axis":{"values":[-200,-100,0,100,200,300,400,500],"labelExpr":"'' + datum.value","labelPadding":7,"title":null}},
   "color":{"field":"s","type":"nominal","scale":{"domain":["2023","2022","2021","2020","2019","2018"],"range":["#ff0000","#000000","#4472c4","#00b0f0","#808080","#92b5d9"]},"legend":{"orient":"none","legendX":11.7,"legendY":123.7,"direction":"horizontal","title":null,"symbolSize":256,"columnPadding":3.7}}
  }},
 {"width":32,"height":1,"data":{"values":[]},"mark":"text","encoding":{}},
 {"width":248,"height":115,"data":{"name":"c8"},"mark":{"type":"line","strokeWidth":1.2},
  "encoding":{
   "x":{"field":"d","type":"quantitative","scale":{"domain":[1,365],"nice":false,"zero":false},"axis":{"values":[1,32,60,91,121,152,182,213,244,274,305,335],"labelExpr":"(indexof([1,32,60,91,121,152,182,213,244,274,305,335], datum.value) + 1) + '月'","labelPadding":6,"offset":-22.7,"labelFontSize":7.5,"title":null}},
   "y":{"field":"v","type":"quantitative","scale":{"domain":[-100,400],"nice":false,"zero":false},"axis":{"values":[-100,-50,0,50,100,150,200,250,300,350,400],"labelExpr":"'' + datum.value","labelPadding":7,"title":null}},
   "color":{"field":"s","type":"nominal","scale":{"domain":["2023","2022","2021","2020","2019","2018"],"range":["#ff0000","#000000","#4472c4","#00b0f0","#808080","#92b5d9"]},"legend":{"orient":"none","legendX":9.7,"legendY":123.7,"direction":"horizontal","title":null,"symbolSize":256,"columnPadding":3.7}}
  }}
],"spacing":0,"bounds":"flush","resolve":{"scale":{"color":"independent"},"legend":{"color":"independent"}}},
{"width":1,"height":17.8,"data":{"values":[]},"mark":"text","encoding":{}},
{"hconcat":[
 {"width":50,"height":1,"data":{"values":[]},"mark":"text","encoding":{}},
 {"width":575,"height":1,"data":{"values":[{}]},"mark":{"type":"rule","color":"#000000","strokeWidth":1},"encoding":{"x":{"datum":0,"type":"quantitative","scale":{"domain":[0,1]},"axis":null},"x2":{"datum":1},"y":{"datum":0.5,"type":"quantitative","scale":{"domain":[0,1]},"axis":null}},"title":{"text":"数据来源：银河期货、mysteel 资讯","anchor":"start","orient":"bottom","offset":10.5,"dx":23,"fontSize":9.5,"fontWeight":"normal","font":"Noto Sans CJK SC","color":"#404040"}}
],"spacing":0,"bounds":"flush"},
{"width":1,"height":22.8,"data":{"values":[]},"mark":"text","encoding":{}},
{"hconcat":[
 {"width":50,"height":1,"data":{"values":[]},"mark":"text","encoding":{}},
 {"width":292,"height":1,"data":{"values":[{}]},"mark":{"type":"rule","color":"#000000","strokeWidth":1},"encoding":{"x":{"datum":0,"type":"quantitative","scale":{"domain":[0,1]},"axis":null},"x2":{"datum":1},"y":{"datum":0.5,"type":"quantitative","scale":{"domain":[0,1]},"axis":null}},"title":{"text":"图9：PB块-PB粉价差","anchor":"start","orient":"top","offset":8.3,"dx":3,"fontSize":10,"fontWeight":"bold","font":"Noto Sans CJK SC","color":"#000000"}},
 {"width":283,"height":1,"data":{"values":[{}]},"mark":{"type":"rule","color":"#000000","strokeWidth":1},"encoding":{"x":{"datum":0,"type":"quantitative","scale":{"domain":[0,1]},"axis":null},"x2":{"datum":1},"y":{"datum":0.5,"type":"quantitative","scale":{"domain":[0,1]},"axis":null}},"title":{"text":"图10：卡粉-PB粉价差","anchor":"start","orient":"top","offset":8.3,"dx":3,"fontSize":10,"fontWeight":"bold","font":"Noto Sans CJK SC","color":"#000000"}}
],"spacing":0,"bounds":"flush"},
{"width":1,"height":13.5,"data":{"values":[]},"mark":"text","encoding":{}},
{"hconcat":[
 {"width":75,"height":1,"data":{"values":[]},"mark":"text","encoding":{}},
 {"width":259,"height":112,"data":{"name":"c9"},"mark":{"type":"line","strokeWidth":1.2},
  "encoding":{
   "x":{"field":"d","type":"quantitative","scale":{"domain":[1,365],"nice":false,"zero":false},"axis":{"values":[1,32,60,91,121,152,182,213,244,274,305,335],"labelExpr":"(indexof([1,32,60,91,121,152,182,213,244,274,305,335], datum.value) + 1) + '月'","labelPadding":5.7,"offset":-18.7,"labelFontSize":7.5,"title":null}},
   "y":{"field":"v","type":"quantitative","scale":{"domain":[-100,500],"nice":false,"zero":false},"axis":{"values":[-100,0,100,200,300,400,500],"labelExpr":"'' + datum.value","labelPadding":7,"title":null}},
   "color":{"field":"s","type":"nominal","scale":{"domain":["2023","2022","2021","2020","2019","2018"],"range":["#ff0000","#000000","#4472c4","#00b0f0","#808080","#92b5d9"]},"legend":{"orient":"none","legendX":11.7,"legendY":120.5,"direction":"horizontal","title":null,"symbolSize":256,"columnPadding":3.7}}
  }},
 {"width":32,"height":1,"data":{"values":[]},"mark":"text","encoding":{}},
 {"width":248,"height":98,"data":{"name":"c10"},"mark":{"type":"line","strokeWidth":1.2},
  "encoding":{
   "x":{"field":"d","type":"quantitative","scale":{"domain":[1,365],"nice":false,"zero":false},"axis":{"values":[1,32,60,91,121,152,182,213,244,274,305,335],"labelExpr":"(indexof([1,32,60,91,121,152,182,213,244,274,305,335], datum.value) + 1) + '月'","labelPadding":6,"labelFontSize":7.5,"title":null}},
   "y":{"field":"v","type":"quantitative","scale":{"domain":[0,500],"nice":false,"zero":false},"axis":{"values":[0,50,100,150,200,250,300,350,400,450,500],"labelExpr":"'' + datum.value","labelPadding":7,"title":null}},
   "color":{"field":"s","type":"nominal","scale":{"domain":["2023","2022","2021","2020","2019","2018"],"range":["#ff0000","#000000","#4472c4","#00b0f0","#808080","#92b5d9"]},"legend":{"orient":"none","legendX":10.7,"legendY":120.5,"direction":"horizontal","title":null,"symbolSize":256,"columnPadding":3.7}}
  }}
],"spacing":0,"bounds":"flush","resolve":{"scale":{"color":"independent"},"legend":{"color":"independent"}}},
{"width":1,"height":15.6,"data":{"values":[]},"mark":"text","encoding":{}},
{"hconcat":[
 {"width":50,"height":1,"data":{"values":[]},"mark":"text","encoding":{}},
 {"width":575,"height":1,"data":{"values":[{}]},"mark":{"type":"rule","color":"#000000","strokeWidth":1},"encoding":{"x":{"datum":0,"type":"quantitative","scale":{"domain":[0,1]},"axis":null},"x2":{"datum":1},"y":{"datum":0.5,"type":"quantitative","scale":{"domain":[0,1]},"axis":null}},"title":{"text":"数据来源：银河期货、mysteel 资讯","anchor":"start","orient":"bottom","offset":12.9,"dx":23,"fontSize":9.5,"fontWeight":"normal","font":"Noto Sans CJK SC","color":"#404040"}}
],"spacing":0,"bounds":"flush"},
{"width":1,"height":19.5,"data":{"values":[]},"mark":"text","encoding":{}},
{"hconcat":[
 {"width":50,"height":1,"data":{"values":[]},"mark":"text","encoding":{}},
 {"width":292,"height":1,"data":{"values":[{}]},"mark":{"type":"rule","color":"#000000","strokeWidth":1},"encoding":{"x":{"datum":0,"type":"quantitative","scale":{"domain":[0,1]},"axis":null},"x2":{"datum":1},"y":{"datum":0.5,"type":"quantitative","scale":{"domain":[0,1]},"axis":null}},"title":{"text":"图11：华东电炉成本利润","anchor":"start","orient":"top","offset":9.3,"dx":3,"fontSize":10,"fontWeight":"bold","font":"Noto Sans CJK SC","color":"#000000"}},
 {"width":283,"height":1,"data":{"values":[{}]},"mark":{"type":"rule","color":"#000000","strokeWidth":1},"encoding":{"x":{"datum":0,"type":"quantitative","scale":{"domain":[0,1]},"axis":null},"x2":{"datum":1},"y":{"datum":0.5,"type":"quantitative","scale":{"domain":[0,1]},"axis":null}},"title":{"text":"图12：螺纹盘面利润与高中低品价差","anchor":"start","orient":"top","offset":9.3,"dx":3,"fontSize":10,"fontWeight":"bold","font":"Noto Sans CJK SC","color":"#000000"}}
],"spacing":0,"bounds":"flush"},
{"width":1,"height":9.7,"data":{"values":[]},"mark":"text","encoding":{}},
{"hconcat":[
 {"width":75,"height":1,"data":{"values":[]},"mark":"text","encoding":{}},
 {"width":238,"height":91,"data":{"name":"c11"},
  "encoding":{
   "x":{"field":"m","type":"quantitative","scale":{"domain":[0,48.2],"nice":false,"zero":false},"axis":{"values":[0,6,12,18,24,30,36,42],"labelExpr":"(2020 + floor(datum.value / 12)) + '/' + (datum.value % 12 == 0 ? '01' : '07')","labelPadding":5.5,"labelFontSize":7,"title":null}},
   "color":{"field":"s","type":"nominal","scale":{"domain":["a","b","c"],"range":["#ff0000","#000000","#4472c4"]},"legend":{"orient":"none","legendX":46.7,"legendY":106.5,"direction":"vertical","title":null,"symbolSize":144,"rowPadding":0,"labelFont":"Noto Sans CJK SC","labelFontSize":6.5,"labelExpr":"datum.label == 'a' ? '华东铁水成本（不含税）' : datum.label == 'b' ? '江苏转炉螺纹成本（15%废钢比，含税）' : '华东螺废价差（螺纹-废钢，含税）'"}}
  },
  "layer":[
   {"transform":[{"filter":"datum.s != 'c'"}],"mark":{"type":"line","strokeWidth":1.2},"encoding":{"y":{"field":"v","type":"quantitative","scale":{"domain":[2000,5500],"nice":false,"zero":false},"axis":{"orient":"left","values":[2000,2500,3000,3500,4000,4500,5000,5500],"labelExpr":"'' + datum.value","labelPadding":6.7,"title":null}}}},
   {"transform":[{"filter":"datum.s == 'c'"}],"mark":{"type":"line","strokeWidth":1.2},"encoding":{"y":{"field":"v","type":"quantitative","scale":{"domain":[600,2400],"nice":false,"zero":false},"axis":{"orient":"right","values":[600,900,1200,1500,1800,2100,2400],"labelExpr":"'' + datum.value","labelPadding":3.4,"title":null}}}}
  ],
  "resolve":{"scale":{"y":"independent"}}},
 {"width":47,"height":1,"data":{"values":[]},"mark":"text","encoding":{}},
 {"width":243,"height":112.3,"data":{"name":"c12"},
  "encoding":{
   "x":{"field":"m","type":"quantitative","scale":{"domain":[0,38.2],"nice":false,"zero":false},"axis":{"values":[0,5,10,15,20,25,30,35],"labelExpr":"(2020 + floor((datum.value + 8) / 12)) + '/' + ((((datum.value + 8) % 12) + 1) < 10 ? '0' : '') + (((datum.value + 8) % 12) + 1)","labelPadding":6.5,"labelFontSize":7,"title":null}},
   "color":{"field":"s","type":"nominal","scale":{"domain":["a","b","c"],"range":["#ff0000","#000000","#4472c4"]},"legend":{"orient":"none","legendX":14,"legendY":131.6,"direction":"horizontal","title":null,"symbolSize":256,"columnPadding":24,"labelFont":"Noto Sans CJK SC","labelFontSize":6.5,"labelExpr":"datum.label == 'a' ? '螺纹盘面利润' : datum.label == 'b' ? '卡粉-PB粉' : 'PB粉-超特粉'"}}
  },
  "layer":[
   {"transform":[{"filter":"datum.s == 'a'"}],"mark":{"type":"line","strokeWidth":1.2},"encoding":{"y":{"field":"v","type":"quantitative","scale":{"domain":[0,2100],"nice":false,"zero":false},"axis":{"orient":"left","values":[0,300,600,900,1200,1500,1800,2100],"labelExpr":"'' + datum.value","labelPadding":3.3,"title":null}}}},
   {"transform":[{"filter":"datum.s != 'a'"}],"mark":{"type":"line","strokeWidth":1.2},"encoding":{"y":{"field":"v","type":"quantitative","scale":{"domain":[0,500],"nice":false,"zero":false},"axis":{"orient":"right","values":[0,100,200,300,400,500],"labelExpr":"'' + datum.value","labelPadding":2.7,"title":null}}}}
  ],
  "resolve":{"scale":{"y":"independent"}}}
],"spacing":0,"bounds":"flush","resolve":{"scale":{"color":"independent"},"legend":{"color":"independent"}}},
{"width":1,"height":10.7,"data":{"values":[]},"mark":"text","encoding":{}},
{"hconcat":[
 {"width":50,"height":1,"data":{"values":[]},"mark":"text","encoding":{}},
 {"width":575,"height":1,"data":{"values":[{}]},"mark":{"type":"rule","color":"#000000","strokeWidth":1},"encoding":{"x":{"datum":0,"type":"quantitative","scale":{"domain":[0,1]},"axis":null},"x2":{"datum":1},"y":{"datum":0.5,"type":"quantitative","scale":{"domain":[0,1]},"axis":null}},"title":{"text":"数据来源：银河期货、mysteel 资讯","anchor":"start","orient":"bottom","offset":12.2,"dx":23,"fontSize":9.5,"fontWeight":"normal","font":"Noto Sans CJK SC","color":"#404040"}}
],"spacing":0,"bounds":"flush"},
{"width":1,"height":57.5,"data":{"values":[]},"mark":"text","encoding":{}},
{"hconcat":[
 {"width":313,"height":20,"data":{"values":[]},"mark":"text","encoding":{}},
 {"width":14,"height":20,"data":{"values":[{}]},"mark":{"type":"text","text":"4/","font":"Open Sans","fontSize":12.5,"fontWeight":"bold","color":"#1f2a44"},"encoding":{}},
 {"width":10,"height":20,"data":{"values":[{}]},"mark":{"type":"text","text":"5","font":"Open Sans","fontSize":9,"fontWeight":"normal","color":"#1f2a44","dy":1},"encoding":{}}
],"spacing":0,"bounds":"flush"}
]
}
